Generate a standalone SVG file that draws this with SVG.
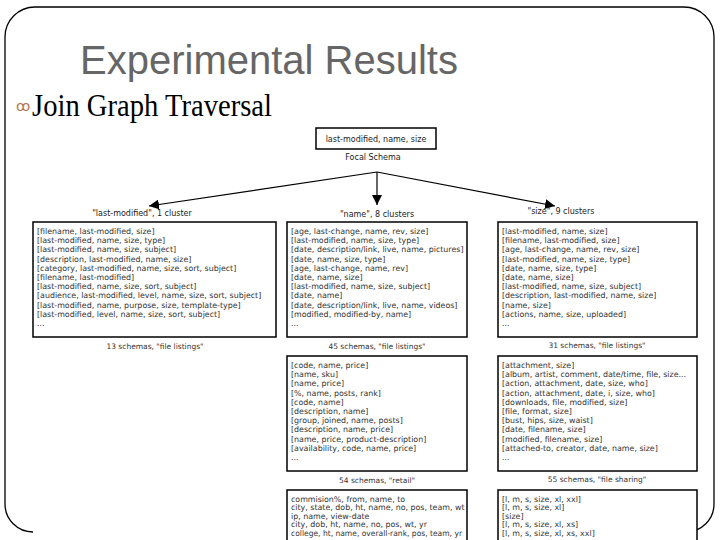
<svg xmlns="http://www.w3.org/2000/svg" width="720" height="540" viewBox="0 0 720 540">
<defs>
<marker id="ah" viewBox="0 0 10 10" refX="10" refY="5" markerWidth="10" markerHeight="10" markerUnits="userSpaceOnUse" orient="auto">
<path d="M0,0 L10,5 L0,10 z" fill="#000"/>
</marker>
<style>
.frame{fill:none;stroke:#000;stroke-width:1.3}
.title{font-family:"Liberation Sans",Arial,sans-serif;font-size:40px;fill:#666}
.sub{font-family:"Liberation Serif","Times New Roman",serif;font-size:31px;fill:#000}
.bul{font-family:"DejaVu Sans",sans-serif;font-size:14px;fill:#b5774f}
.box{fill:#fff;stroke:#000;stroke-width:1.5}
.t{font-family:"DejaVu Sans",sans-serif;font-size:7.9px;fill:#333}
.c{font-family:"DejaVu Sans",sans-serif;font-size:7.5px;fill:#333;text-anchor:middle}
.lbl{font-family:"DejaVu Sans",sans-serif;font-size:8px;fill:#222;text-anchor:middle}
.conn{stroke:#000;stroke-width:1.2;fill:none}
</style>
</defs>
<rect width="720" height="540" fill="#fff"/>
<path class="frame" d="M33,532 A28,28 0 0 1 5,504 L5,37 A30,30 0 0 1 35,7 L684,7 A30,30 0 0 1 714,37 L714,504 A28,28 0 0 1 686,532"/>
<text class="title" x="80" y="74">Experimental Results</text>
<text class="bul" x="16" y="111">ꝏ</text>
<text class="sub" x="32" y="116" textLength="240" lengthAdjust="spacingAndGlyphs">Join Graph Traversal</text>

<g id="focal">
<rect class="box" x="316" y="128" width="120" height="21" stroke-width="1.2"/>
<text class="lbl" x="376" y="142">last-modified, name, size</text>
<text class="lbl" x="373" y="160" fill="#444">Focal Schema</text>
</g>

<g id="connectors">
<line class="conn" x1="377" y1="172" x2="149" y2="206" marker-end="url(#ah)"/>
<line class="conn" x1="377" y1="172" x2="377" y2="205" marker-end="url(#ah)"/>
<line class="conn" x1="377" y1="172" x2="555" y2="206" marker-end="url(#ah)"/>
</g>

<text class="lbl" x="142" y="216">"last-modified", 1 cluster</text>
<text class="lbl" x="377" y="217">"name", 8 clusters</text>
<text class="lbl" x="561" y="214">"size", 9 clusters</text>

<g id="box-lastmod">
<rect class="box" x="33" y="222" width="243" height="115"/>
<text class="t"><tspan x="37" y="234">[filename, last-modified, size]</tspan><tspan x="37" y="243.2">[last-modified, name, size, type]</tspan><tspan x="37" y="252.4">[last-modified, name, size, subject]</tspan><tspan x="37" y="261.6">[description, last-modified, name, size]</tspan><tspan x="37" y="270.8">[category, last-modified, name, size, sort, subject]</tspan><tspan x="37" y="280">[filename, last-modified]</tspan><tspan x="37" y="289.2">[last-modified, name, size, sort, subject]</tspan><tspan x="37" y="298.4">[audience, last-modified, level, name, size, sort, subject]</tspan><tspan x="37" y="307.6">[last-modified, name, purpose, size, template-type]</tspan><tspan x="37" y="316.8">[last-modified, level, name, size, sort, subject]</tspan><tspan x="37" y="326">...</tspan></text>
<text class="c" x="155" y="349">13 schemas, "file listings"</text>
</g>

<g id="box-name">
<rect class="box" x="287" y="222" width="180" height="115"/>
<text class="t"><tspan x="291" y="234">[age, last-change, name, rev, size]</tspan><tspan x="291" y="243.2">[last-modified, name, size, type]</tspan><tspan x="291" y="252.4">[date, description/link, live, name, pictures]</tspan><tspan x="291" y="261.6">[date, name, size, type]</tspan><tspan x="291" y="270.8">[age, last-change, name, rev]</tspan><tspan x="291" y="280">[date, name, size]</tspan><tspan x="291" y="289.2">[last-modified, name, size, subject]</tspan><tspan x="291" y="298.4">[date, name]</tspan><tspan x="291" y="307.6">[date, description/link, live, name, videos]</tspan><tspan x="291" y="316.8">[modified, modified-by, name]</tspan><tspan x="291" y="326">...</tspan></text>
<text class="c" x="377" y="349">45 schemas, "file listings"</text>
</g>

<g id="box-size">
<rect class="box" x="498" y="222" width="199" height="115"/>
<text class="t"><tspan x="502" y="234">[last-modified, name, size]</tspan><tspan x="502" y="243.2">[filename, last-modified, size]</tspan><tspan x="502" y="252.4">[age, last-change, name, rev, size]</tspan><tspan x="502" y="261.6">[last-modified, name, size, type]</tspan><tspan x="502" y="270.8">[date, name, size, type]</tspan><tspan x="502" y="280">[date, name, size]</tspan><tspan x="502" y="289.2">[last-modified, name, size, subject]</tspan><tspan x="502" y="298.4">[description, last-modified, name, size]</tspan><tspan x="502" y="307.6">[name, size]</tspan><tspan x="502" y="316.8">[actions, name, size, uploaded]</tspan><tspan x="502" y="326">...</tspan></text>
<text class="c" x="597" y="348">31 schemas, "file listings"</text>
</g>

<g id="box-retail">
<rect class="box" x="287" y="356" width="180" height="115"/>
<text class="t"><tspan x="291" y="368">[code, name, price]</tspan><tspan x="291" y="377.2">[name, sku]</tspan><tspan x="291" y="386.4">[name, price]</tspan><tspan x="291" y="395.6">[%, name, posts, rank]</tspan><tspan x="291" y="404.8">[code, name]</tspan><tspan x="291" y="414">[description, name]</tspan><tspan x="291" y="423.2">[group, joined, name, posts]</tspan><tspan x="291" y="432.4">[description, name, price]</tspan><tspan x="291" y="441.6">[name, price, product-description]</tspan><tspan x="291" y="450.8">[availability, code, name, price]</tspan><tspan x="291" y="460">...</tspan></text>
<text class="c" x="377" y="483">54 schemas, "retail"</text>
</g>

<g id="box-filesharing">
<rect class="box" x="498" y="356" width="199" height="115"/>
<text class="t"><tspan x="502" y="368">[attachment, size]</tspan><tspan x="502" y="377.2">[album, artist, comment, date/time, file, size...</tspan><tspan x="502" y="386.4">[action, attachment, date, size, who]</tspan><tspan x="502" y="395.6">[action, attachment, date, i, size, who]</tspan><tspan x="502" y="404.8">[downloads, file, modified, size]</tspan><tspan x="502" y="414">[file, format, size]</tspan><tspan x="502" y="423.2">[bust, hips, size, waist]</tspan><tspan x="502" y="432.4">[date, filename, size]</tspan><tspan x="502" y="441.6">[modified, filename, size]</tspan><tspan x="502" y="450.8">[attached-to, creator, date, name, size]</tspan><tspan x="502" y="460">...</tspan></text>
<text class="c" x="597" y="482">55 schemas, "file sharing"</text>
</g>

<g id="box-sports">
<rect class="box" x="287" y="490" width="180" height="60"/>
<text class="t"><tspan x="291" y="501.5">commision%, from, name, to</tspan><tspan x="291" y="510">city, state, dob, ht, name, no, pos, team, wt</tspan><tspan x="291" y="518.5">ip, name, view-date</tspan><tspan x="291" y="527">city, dob, ht, name, no, pos, wt, yr</tspan></text>
<text class="t" x="291" y="535.5" textLength="171" lengthAdjust="spacingAndGlyphs">college, ht, name, overall-rank, pos, team, yr</text>
</g>

<g id="box-sizes">
<rect class="box" x="498" y="490" width="199" height="60"/>
<text class="t"><tspan x="502" y="501.5">[l, m, s, size, xl, xxl]</tspan><tspan x="502" y="510">[l, m, s, size, xl]</tspan><tspan x="502" y="518.5">[size]</tspan><tspan x="502" y="527">[l, m, s, size, xl, xs]</tspan><tspan x="502" y="535.5">[l, m, s, size, xl, xs, xxl]</tspan></text>
</g>
</svg>
